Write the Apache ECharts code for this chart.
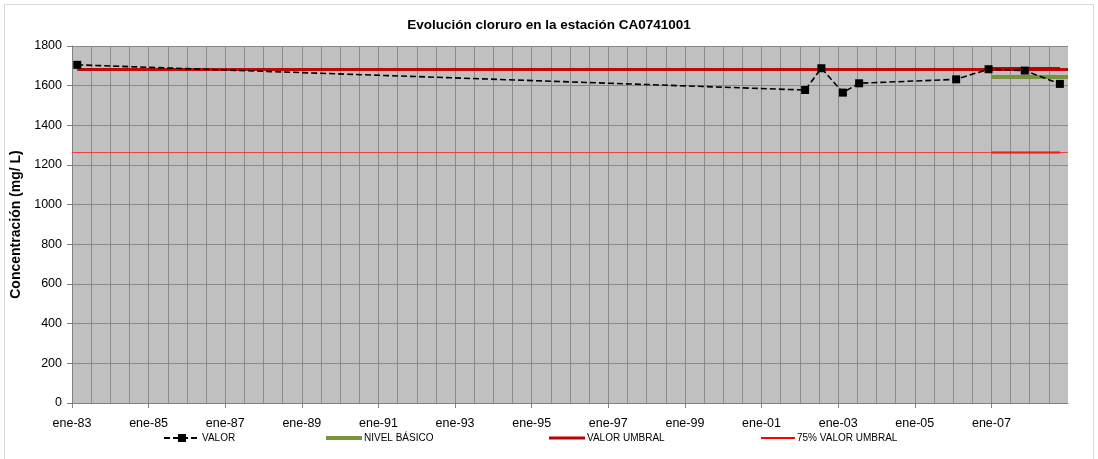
<!DOCTYPE html>
<html><head><meta charset="utf-8">
<script src="https://cdn.jsdelivr.net/npm/echarts@6/dist/echarts.min.js"></script>
<style>html,body{margin:0;padding:0;background:#fff}#c{width:1098px;height:459px}</style>
</head><body><div id="c"></div>
<script>
// Data
const valorDates = ['1983-02-20','2002-02-20','2002-07-25','2003-02-15','2003-07-20','2006-01-30','2006-12-05','2007-11-15','2008-10-15'];
const valorValues = [1705, 1578, 1688, 1565, 1612, 1632, 1683, 1676, 1609];
const nivelDates = ['2007-01-01','2009-01-01'];
const nivelValues = [1644, 1644];
const umbralDates = ['2007-01-01','2008-10-15'];
const umbralValue = 1684;
const umbral75Value = 1263;
const yTicks = [0,200,400,600,800,1000,1200,1400,1600,1800];
const xLabelYears = [1983,1985,1987,1989,1991,1993,1995,1997,1999,2001,2003,2005,2007];
const startYear = 1983, endYear = 2009;

const T0 = Date.UTC(startYear,0,1);
function toX(s){ const p = s.split('-').map(Number); return (Date.UTC(p[0],p[1]-1,p[2]) - T0)/(365.25*864e5); }
const pair = (ds, vs) => ds.map((d,i)=>[toX(d), Array.isArray(vs)? vs[i] : vs]);
const xTickVals = xLabelYears.map(y => y - startYear);

const font = 'Liberation Sans, Arial, sans-serif';
const chart = echarts.init(document.getElementById('c'), null, {renderer:'canvas'});
const legendBase = {top: 428, itemGap: 2, textStyle:{fontFamily:font, fontSize:10, color:'#000', padding:[0,0,0,-3]}};
const lineIcon = 'rect';
chart.setOption({
  animation:false,
  backgroundColor:'#fff',
  title:{text:'Evolución cloruro en la estación CA0741001', left:'center', top:13,
    textStyle:{fontFamily:font, fontSize:13.5, fontWeight:'bold', color:'#000'}},
  graphic:[{type:'rect', shape:{x:4.5,y:4.5,width:1089,height:460}, style:{fill:'none', stroke:'#d9d9d9', lineWidth:1}, silent:true}],
  grid:{left:72, top:46, width:996, height:357, show:true, backgroundColor:'#c0c0c0', borderWidth:0},
  legend:[
    Object.assign({}, legendBase, {left:158, itemWidth:36, itemHeight:10, data:['VALOR']}),
    Object.assign({}, legendBase, {left:321, itemWidth:36, itemHeight:4, data:[{name:'NIVEL BÁSICO', icon:lineIcon}]}),
    Object.assign({}, legendBase, {left:544, itemWidth:36, itemHeight:3, data:[{name:'VALOR UMBRAL', icon:lineIcon}]}),
    Object.assign({}, legendBase, {left:756, itemWidth:34, itemHeight:2, data:[{name:'75% VALOR UMBRAL', icon:lineIcon}]})
  ],
  xAxis:{type:'value', min:0, max:endYear-startYear, interval:2,
    axisLine:{show:true, onZero:false, lineStyle:{color:'#808080', width:1}},
    axisTick:{show:true, length:5, lineStyle:{color:'#808080'}, customValues: xTickVals},
    minorTick:{show:false, splitNumber:4},
    splitLine:{show:true, lineStyle:{color:'#8a8a8a', width:1}},
    minorSplitLine:{show:true, lineStyle:{color:'#8a8a8a', width:1}},
    axisLabel:{fontFamily:font, fontSize:12.5, color:'#000', margin:14, customValues: xTickVals,
      formatter:v=> 'ene-' + String((startYear+v)%100).padStart(2,'0')}
  },
  yAxis:{type:'value', min:yTicks[0], max:yTicks[yTicks.length-1], interval:yTicks[1]-yTicks[0],
    name:'Concentración (mg/ L)', nameLocation:'middle', nameGap:43, nameRotate:90,
    nameTextStyle:{fontFamily:font, fontSize:14, fontWeight:'bold', color:'#000'},
    axisLine:{show:true, lineStyle:{color:'#808080'}},
    axisTick:{show:true, length:5, lineStyle:{color:'#808080'}},
    splitLine:{show:true, lineStyle:{color:'#8a8a8a', width:1}},
    axisLabel:{fontFamily:font, fontSize:12.5, color:'#000', margin:10, formatter:v=>String(v)}
  },
  series:[
    {name:'VALOR', type:'line', data:pair(valorDates, valorValues), z:5,
      symbol:'rect', symbolSize:8, itemStyle:{color:'#000'},
      lineStyle:{color:'#000', width:1.6, type:[6,3]}},
    {name:'NIVEL BÁSICO', type:'line', data:pair(nivelDates, nivelValues), symbol:'none', z:4,
      itemStyle:{color:'#77933c'}, lineStyle:{color:'#77933c', width:4}},
    {name:'VALOR UMBRAL', type:'line', data:pair(umbralDates, umbralValue), symbol:'none', z:3,
      itemStyle:{color:'#c00000'}, lineStyle:{color:'#c00000', width:4},
      markLine:{silent:true, symbol:'none', label:{show:false},
        data:[[{coord:[toX(valorDates[0]), umbralValue]},{coord:[endYear-startYear, umbralValue]}]],
        lineStyle:{color:'#c00000', width:3, type:'solid', opacity:0.95}}},
    {name:'75% VALOR UMBRAL', type:'line', data:pair(umbralDates, umbral75Value), symbol:'none', z:3,
      itemStyle:{color:'#ff0000'}, lineStyle:{color:'#ff0000', width:2},
      markLine:{silent:true, symbol:'none', label:{show:false},
        data:[[{coord:[0, umbral75Value]},{coord:[endYear-startYear, umbral75Value]}]],
        lineStyle:{color:'#ff2020', width:1, type:'solid', opacity:0.8}}}
  ]
});
</script></body></html>
